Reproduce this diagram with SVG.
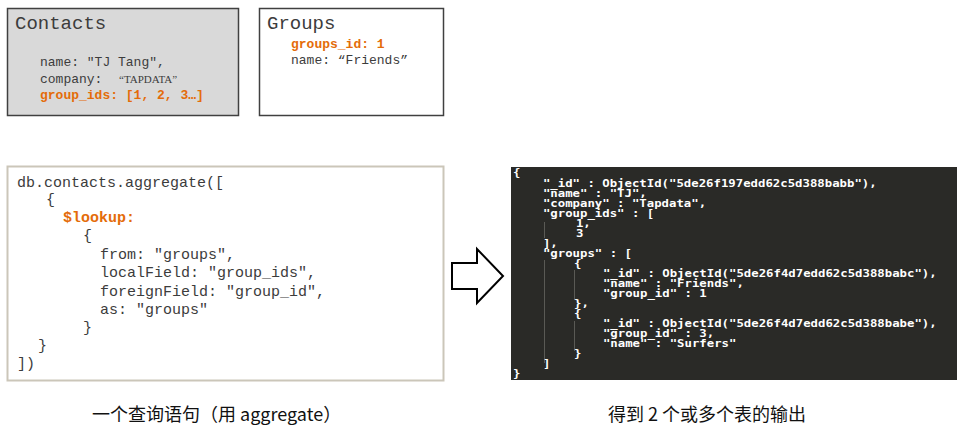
<svg xmlns="http://www.w3.org/2000/svg" width="964" height="433" viewBox="0 0 964 433">
<style>
.mono{font-family:"Liberation Mono","Courier New",monospace;fill:#3c3c3c}
.hl{font-weight:bold;fill:#e46c0a}
.out{font-family:"DejaVu Sans Mono",monospace;font-weight:bold;font-size:10px;fill:#ffffff}
.cap{font-family:"Noto Sans CJK SC","Noto Sans",sans-serif;font-size:18px;fill:#111111}
.guide{stroke:#5a5a55;stroke-width:1}
</style>
<rect width="964" height="433" fill="#ffffff"/>
<g id="contacts">
<rect x="7.5" y="8.5" width="231" height="107" fill="#d9d9d9" stroke="#404040" stroke-width="1.5"/>
<text class="mono" x="15" y="29" font-size="19">Contacts</text>
<text class="mono" x="40" y="66" font-size="13">name: "TJ Tang",</text>
<text class="mono" x="40" y="83" font-size="13">company: <tspan x="119" font-family="Liberation Serif, Times New Roman, serif" font-size="11">“TAPDATA”</tspan></text>
<text class="mono hl" x="40" y="99" font-size="13">group_ids: [1, 2, 3…]</text>
</g>
<g id="groups">
<rect x="259.5" y="8.5" width="184" height="107" fill="#ffffff" stroke="#404040" stroke-width="1.5"/>
<text class="mono" x="267" y="29" font-size="19">Groups</text>
<text class="mono hl" x="291" y="48" font-size="13">groups_id: 1</text>
<text class="mono" x="291" y="64" font-size="13">name: “Friends”</text>
</g>
<g id="query">
<rect x="7.5" y="166.5" width="436" height="214" fill="#ffffff" stroke="#cbc6b9" stroke-width="2"/>
<g class="mono" font-size="15">
<text x="17" y="187">db.contacts.aggregate([</text>
<text x="46" y="204">{</text>
<text class="hl" x="63" y="222">$lookup:</text>
<text x="83" y="240">{</text>
<text x="100" y="259">from: "groups",</text>
<text x="100" y="277">localField: "group_ids",</text>
<text x="100" y="296">foreignField: "group_id",</text>
<text x="100" y="314">as: "groups"</text>
<text x="83" y="332">}</text>
<text x="38" y="350">}</text>
<text x="17" y="368">])</text>
</g>
</g>
<g id="arrow">
<polygon points="452,263 477,263 477,249 503,276 477,303 477,289 452,289" fill="#ffffff" stroke="#000000" stroke-width="2"/>
</g>
<g id="output">
<rect x="511" y="167" width="446" height="213" fill="#2a2a27"/>
<line class="guide" x1="544.5" y1="222" x2="544.5" y2="238"/>
<line class="guide" x1="544.5" y1="260" x2="544.5" y2="363"/>
<line class="guide" x1="574.5" y1="270" x2="574.5" y2="300"/>
<line class="guide" x1="574.5" y1="321" x2="574.5" y2="351"/>
<g class="out" transform="scale(1.232,1)">
<text x="416.4" y="176">{</text>
<text x="440.7" y="187">"_id" : ObjectId("5de26f197edd62c5d388babb"),</text>
<text x="440.7" y="197">"name" : "TJ",</text>
<text x="440.7" y="207">"company" : "Tapdata",</text>
<text x="440.7" y="217">"group_ids" : [</text>
<text x="467.5" y="227">1,</text>
<text x="467.5" y="237">3</text>
<text x="440.7" y="247">],</text>
<text x="440.7" y="257">"groups" : [</text>
<text x="465.9" y="267">{</text>
<text x="489.4" y="277">"_id" : ObjectId("5de26f4d7edd62c5d388babc"),</text>
<text x="489.4" y="287">"name" : "Friends",</text>
<text x="489.4" y="297">"group_id" : 1</text>
<text x="465.9" y="307">},</text>
<text x="465.9" y="317">{</text>
<text x="489.4" y="327">"_id" : ObjectId("5de26f4d7edd62c5d388babe"),</text>
<text x="489.4" y="337">"group_id" : 3,</text>
<text x="489.4" y="347">"name" : "Surfers"</text>
<text x="465.9" y="357">}</text>
<text x="440.7" y="367">]</text>
<text x="416.4" y="377">}</text>
</g>
</g>
<g id="captions">
<text class="cap" x="92" y="421">一个查询语句（用 aggregate）</text>
<text class="cap" x="608" y="421">得到 2 个或多个表的输出</text>
</g>
</svg>
